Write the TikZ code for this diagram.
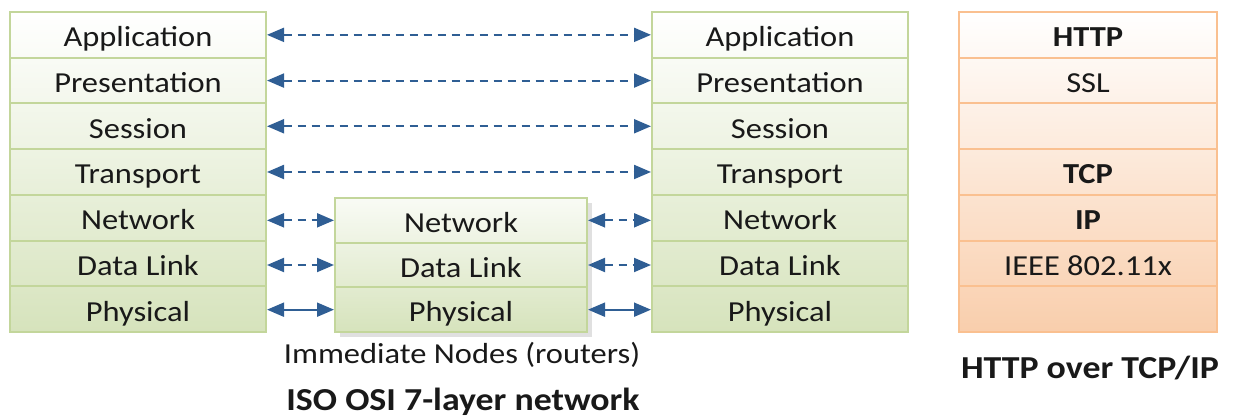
\documentclass[tikz,border=0pt]{standalone}
\usepackage{fontspec}
\setmainfont{Carlito}[FakeStretch=1.12]
\usetikzlibrary{arrows.meta}
\definecolor{osigreen}{RGB}{195,214,155}
\definecolor{osifill}{RGB}{214,227,188}
\definecolor{tcporange}{RGB}{250,192,144}
\definecolor{tcpfill}{RGB}{249,206,172}
\definecolor{linkblue}{RGB}{47,94,148}
\tikzset{
  layer/.style={draw=osigreen, line width=2pt, minimum width=256pt, minimum height=45.7pt,
    inner sep=0pt, text height=27pt, text depth=3pt, text=black!90,
    font=\fontsize{29}{34}\selectfont},
  tcplayer/.style={layer, draw=tcporange, minimum width=258pt},
  peer/.style={<->, draw=linkblue, line width=2pt, dash pattern=on 8pt off 6pt},
  wire/.style={<->, draw=linkblue, line width=2pt},
  caption/.style={text=black!90, font=\fontsize{29}{34}\selectfont},
}
\begin{document}
\begin{tikzpicture}[x=1pt, y=-1pt, >={Triangle[length=17pt,width=14pt]}]
    \useasboundingbox (0,0) rectangle (1235,419);
    % left and right osi stacks
    \foreach \name [count=\i, evaluate=\i as \a using {int((\i-1)*100/7)},
                    evaluate=\i as \b using {int(\i*100/7)}]
        in {Application,Presentation,Session,Transport,Network,Data Link,Physical} {
        \node[layer, top color=osifill!\a, bottom color=osifill!\b] (l\i) at (138, {12+45.71*(\i-0.5)}) {\name};
        \node[layer, top color=osifill!\a, bottom color=osifill!\b] (r\i) at (780, {12+45.71*(\i-0.5)}) {\name};
    }
    % routers in the middle
    \fill[black!12] (340,203) rectangle (592,337);
    \foreach \name [count=\i, evaluate=\i as \a using {int(15+(\i-1)*85/3)},
                    evaluate=\i as \b using {int(15+\i*85/3)}]
        in {Network,Data Link,Physical} {
        \node[layer, minimum width=252pt, minimum height=44.7pt, top color=osifill!\a, bottom color=osifill!\b]
            (m\i) at (461, {198+44.67*(\i-0.5)}) {\name};
    }
    % tcp/ip stack
    \foreach \name [count=\i, evaluate=\i as \a using {int((\i-1)*100/7)},
                    evaluate=\i as \b using {int(\i*100/7)}]
        in {\textbf{HTTP},SSL,{},\textbf{TCP},\textbf{IP},IEEE 802.11x,{}} {
        \node[tcplayer, top color=tcpfill!\a, bottom color=tcpfill!\b] (t\i) at (1088, {12+45.71*(\i-0.5)}) {\name};
    }
    % peer arrows
    \foreach \i in {1,...,4}
        \draw[peer] (l\i.east) -- (r\i.west);
    \draw[peer] (l5.east |- m1) -- (m1.west);
    \draw[peer] (m1.east) -- (r5.west |- m1);
    \draw[peer] (l6.east |- m2) -- (m2.west);
    \draw[peer] (m2.east) -- (r6.west |- m2);
    \draw[wire] (l7.east |- m3) -- (m3.west);
    \draw[wire] (m3.east) -- (r7.west |- m3);
    % captions
    \node[caption] (routers) at (462,355) {Immediate Nodes (routers)};
    \node[caption, font=\fontsize{32}{36}\selectfont\bfseries] (osi) at (463,402) {ISO OSI 7-layer network};
    \node[caption, font=\fontsize{32}{36}\selectfont\bfseries] (http) at (1090,368) {HTTP over TCP/IP};
\end{tikzpicture}
\end{document}
